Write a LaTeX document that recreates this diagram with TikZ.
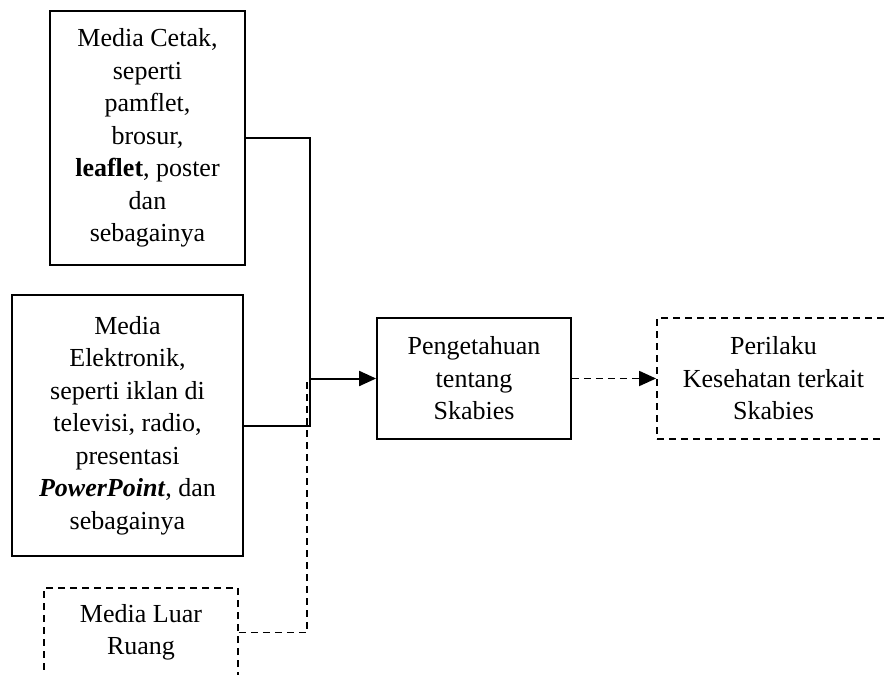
\documentclass[tikz,border=0pt]{standalone}
\usepackage{fontspec}
\setmainfont{Liberation Serif}
\usetikzlibrary{arrows.meta}
\tikzset{
  boxs/.style={draw, line width=1.8pt, inner sep=0pt, align=center,
    font=\fontsize{26}{32.5}\selectfont},
  dline/.style={line width=1.8pt, dash pattern=on 7pt off 5pt},
  sline/.style={line width=2pt},
  tip/.style={-{Triangle[length=17pt,width=15pt]}}
}
\begin{document}
\begin{tikzpicture}[x=1pt,y=-1pt]
\path[use as bounding box, clip] (0,0) rectangle (884,675);
\fill[white] (0,0) rectangle (884,675);
\node[boxs, minimum width=195pt, minimum height=254pt] (b1) at (147.5,138)
  {Media Cetak,\\seperti\\pamflet,\\brosur,\\\textbf{leaflet}, poster\\dan\\sebagainya};
\node[boxs, minimum width=231pt, minimum height=261pt] (b2) at (127.5,425.5)
  {Media\\Elektronik,\\seperti iklan di\\televisi, radio,\\presentasi\\\textbf{\textit{PowerPoint}}, dan\\sebagainya};
\node[boxs, dline, minimum width=194pt, minimum height=89pt] (b3) at (141,632.5)
  {Media Luar\\Ruang};
\node[boxs, minimum width=194pt, minimum height=121pt] (b4) at (474,378.5)
  {Pengetahuan\\tentang\\Skabies};
\node[boxs, dline, minimum width=233pt, minimum height=121pt] (b5) at (773.5,378.5)
  {Perilaku\\Kesehatan terkait\\Skabies};
\coordinate (J) at (310,378.5);
\coordinate (Jd) at (307,378.5);
\draw[sline] (b1.east) -| (J);
\draw[sline] (b2.east) -| (J);
\draw[dline] (b3.east) -| (Jd);
\draw[sline, tip] (J) -- (b4.west);
\draw[dline, tip] (b4.east) -- (b5.west);
\end{tikzpicture}
\end{document}
